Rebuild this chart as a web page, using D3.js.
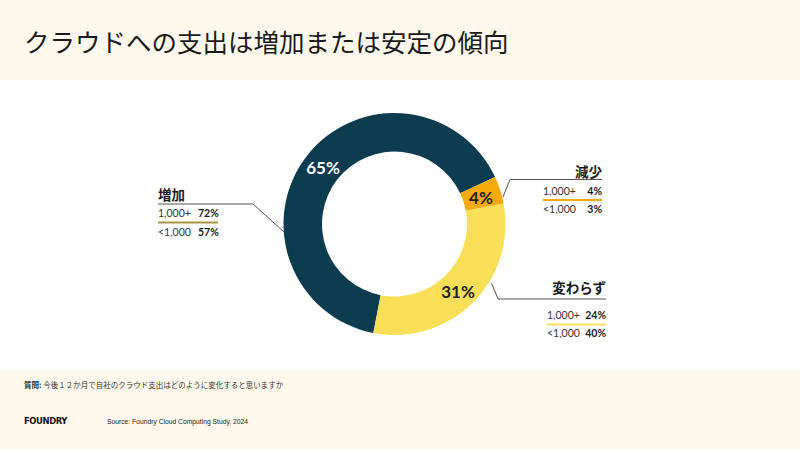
<!DOCTYPE html>
<html><head><meta charset="utf-8">
<script src="https://cdn.jsdelivr.net/npm/d3@7/dist/d3.min.js"></script>
<style>
html,body{margin:0;padding:0;background:#fff;}
svg{display:block;}
</style></head>
<body>
<svg id="chart" width="800" height="449"></svg>
<script>
const categories = ["増加", "減少", "変わらず"];
const values = [65, 4, 31];
const colors = ["#0D3B4F", "#F6AA0C", "#F9DE57"];
const labelColors = ["#ffffff", "#222222", "#222222"];
const rowLabels = ["1,000+", "<1,000"];
const seriesLarge = [72, 4, 24];   // 1,000+
const seriesSmall = [57, 3, 40];   // <1,000
const underlineColors = ["#A4963F", "#F6AA0C", "#F9DE57"];
const title = "クラウドへの支出は増加または安定の傾向";
const question = "今後１２か月で自社のクラウド支出はどのように変化すると思いますか";
const source = "Source: Foundry Cloud Computing Study, 2024";

const svg = d3.select("#chart");
const W = 800, H = 449;
const cream = "#FEF9EC";
const jp = "'Noto Sans CJK JP', 'Noto Sans', sans-serif";
const lat = "Lato, 'Noto Sans', sans-serif";

svg.append("rect").attr("x",0).attr("y",0).attr("width",W).attr("height",80).attr("fill",cream);
svg.append("rect").attr("x",0).attr("y",370).attr("width",W).attr("height",H-370).attr("fill",cream);

svg.append("text").attr("x",24).attr("y",52).attr("font-family",jp).attr("font-size",25.5)
  .attr("fill","#1a1a1a").text(title);

// Donut
const cx = 394.5, cy = 224, rOuter = 111, rInner = 72.5;
const g = svg.append("g").attr("transform",`translate(${cx},${cy})`);
const startA = 191 * Math.PI/180;
const pie = d3.pie().sort(null).value(d=>d).startAngle(startA).endAngle(startA + 2*Math.PI);
const arcs = pie(values);
const arc = d3.arc().innerRadius(rInner).outerRadius(rOuter);
g.selectAll("path.seg").data(arcs).enter().append("path").attr("class","seg")
  .attr("d",arc).attr("fill",(d,i)=>colors[i]);

// percent label offsets from donut centre
const labelPos = [[-71.5, -56.5], [86.5, -27], [63.5, 67]];
g.selectAll("text.pct").data(arcs).enter().append("text").attr("class","pct")
  .attr("x",(d,i)=>labelPos[i][0])
  .attr("y",(d,i)=>labelPos[i][1])
  .attr("text-anchor","middle").attr("dominant-baseline","central")
  .attr("font-family",lat).attr("font-weight","bold").attr("font-size",17)
  .attr("fill",(d,i)=>labelColors[i]).text(d=>d.value+"%");

// Annotations
const ann = [
  {anchor:"start", x0:158, x1:218, headY:200, lineEnd:[[158,204],[253,204],[284,232]], numX:198, row1:217, ul:222.5, row2:236},
  {anchor:"end", x0:543, x1:602, headY:177, lineEnd:[[602,179.5],[510,179.5],[503,197]], numX:602, row1:194.5, ul:200, row2:213},
  {anchor:"end", x0:547, x1:606, headY:293, lineEnd:[[606,299],[498,299],[491.5,283]], numX:606, row1:319, ul:324.5, row2:337}
];
const line = d3.line();
ann.forEach((a,i)=>{
  svg.append("path").attr("d",line(a.lineEnd)).attr("fill","none").attr("stroke","#555").attr("stroke-width",1);
  svg.append("text").attr("x", a.anchor==="start"?a.x0:a.x1).attr("y",a.headY)
    .attr("text-anchor",a.anchor).attr("font-family",jp).attr("font-weight","bold")
    .attr("font-size",13.5).attr("fill","#1a1a1a").text(categories[i]);
  const rows = [[rowLabels[0], seriesLarge[i], a.row1],[rowLabels[1], seriesSmall[i], a.row2]];
  rows.forEach(r=>{
    svg.append("text").attr("x",a.x0).attr("y",r[2]).attr("font-family",lat)
      .attr("font-size",10.5).attr("fill","#333").text(r[0]);
    svg.append("text").attr("x",a.numX).attr("y",r[2]).attr("text-anchor",a.anchor==="start"?"start":"end")
      .attr("font-family",lat).attr("font-weight","bold").attr("font-size",10.5).attr("fill","#1a1a1a").text(r[1]+"%");
  });
  svg.append("line").attr("x1",a.x0).attr("x2",a.x1).attr("y1",a.ul).attr("y2",a.ul)
    .attr("stroke",underlineColors[i]).attr("stroke-width",2);
});

// Footer
const q = svg.append("text").attr("x",24).attr("y",388).attr("font-family",jp).attr("font-size",7.5).attr("fill","#333");
q.append("tspan").attr("font-weight","bold").text("質問: ");
q.append("tspan").text(question);
svg.append("text").attr("x",24).attr("y",424).attr("font-family","'DejaVu Sans', sans-serif")
  .attr("font-weight","bold").attr("font-size",9.5).attr("fill","#111").attr("letter-spacing",-0.5)
  .attr("textLength",43).attr("lengthAdjust","spacingAndGlyphs").text("FOUNDRY");
svg.append("text").attr("x",107).attr("y",423.5).attr("font-family","'Liberation Sans', Arial, sans-serif")
  .attr("font-size",7).attr("fill","#222").attr("textLength",141).attr("lengthAdjust","spacingAndGlyphs").text(source);
</script>
</body></html>
